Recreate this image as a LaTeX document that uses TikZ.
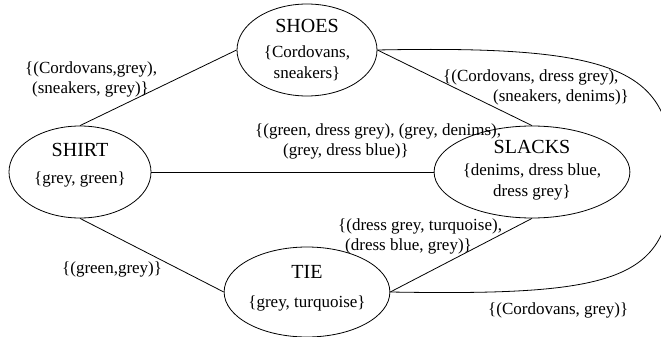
\documentclass[tikz,border=0pt]{standalone}
\usepackage{fontspec}
\setmainfont{Liberation Serif}
\usetikzlibrary{shapes.geometric}
\begin{document}
\begin{tikzpicture}[x=1pt,y=-1pt,
  st/.style={ellipse,draw,line width=0.8pt,inner sep=0pt,align=center,
    font=\fontsize{17}{21}\selectfont},
  lab/.style={font=\fontsize{17}{20}\selectfont,inner sep=0pt,align=left,anchor=west},
  conn/.style={line width=0.8pt}]
\useasboundingbox (0,0) rectangle (661,337);
\node[st,minimum width=140pt,minimum height=92pt] (shoes) at (307,50)
  {{\fontsize{20}{20}\selectfont SHOES}\\[4pt]\{Cordovans,\\sneakers\}\\[-18pt]\mbox{}};
\node[st,minimum width=142pt,minimum height=92pt] (shirt) at (80,172)
  {{\fontsize{20}{20}\selectfont SHIRT}\\[6pt]\{grey, green\}\\[-4pt]\mbox{}};
\node[st,minimum width=138pt,minimum height=92pt] (slacks) at (532,172)
  {{\fontsize{20}{20}\selectfont SLACKS}\\[1pt]\{denims, dress blue,\\dress grey\}\\[-13pt]\mbox{}};
\node[st,minimum width=140pt,minimum height=90pt] (tie) at (307,292)
  {{\fontsize{20}{20}\selectfont TIE}\\[8pt]\{grey, turquoise\}\\[-10pt]\mbox{}};
\coordinate (rt) at (672,172);
\draw[conn] (shirt.north) -- (shoes.west);
\draw[conn] (shoes.east) -- (slacks.north);
\draw[conn] (shirt.east) -- (slacks.west);
\draw[conn] (shirt.south) -- (tie.west);
\draw[conn] (tie.east) -- (slacks.south);
\draw[conn] (shoes.east) .. controls (620,45) and (672,70) .. (rt)
  .. controls (672,280) and (620,296) .. (tie.east);
\node[lab] (e1) at (25,79) {\{(Cordovans,grey),\\\hspace*{7pt}(sneakers, grey)\}};
\node[lab] (e2) at (255,141) {\{(green, dress grey), (grey, denims),\\\hspace*{28pt}(grey, dress blue)\}};
\node[lab] (e3) at (443,87) {\{(Cordovans, dress grey),\\\hspace*{50pt}(sneakers, denims)\}};
\node[lab] (e4) at (338,236) {\{(dress grey, turquoise),\\\hspace*{7pt}(dress blue, grey)\}};
\node[lab] (e5) at (62,269) {\{(green,grey)\}};
\node[lab] (e6) at (488,310) {\{(Cordovans, grey)\}};
\end{tikzpicture}
\end{document}
